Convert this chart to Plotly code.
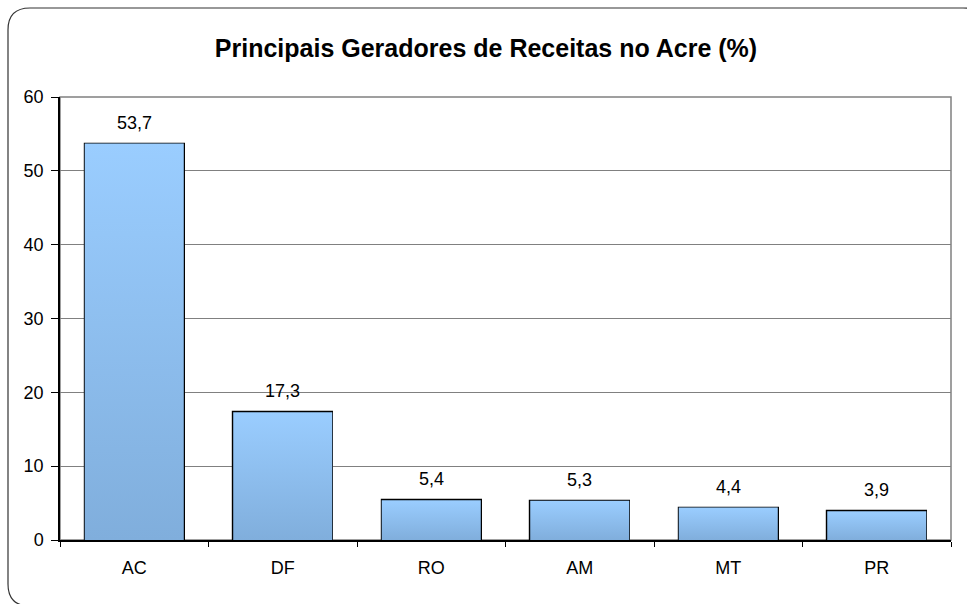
import plotly.graph_objects as go

# Revenue share by state of origin (%)
states = ["AC", "DF", "RO", "AM", "MT", "PR"]
shares = [53.7, 17.3, 5.4, 5.3, 4.4, 3.9]
y_ticks = [0, 10, 20, 30, 40, 50, 60]

W, H = 967, 604
L, R, T, B = 60, 16, 97, 64
BAR_W = 0.667
FONT = "Liberation Sans, Arial, sans-serif"

xs = list(range(len(states)))
fig = go.Figure()

# Gradient-filled bar bodies (light at top, darker at bottom)
for x, v in zip(xs, shares):
    x0, x1 = x - BAR_W / 2, x + BAR_W / 2
    fig.add_trace(go.Scatter(
        x=[x0, x1, x1, x0, x0], y=[0, 0, v, v, 0],
        mode="lines", line=dict(width=0), fill="toself",
        fillgradient=dict(type="vertical",
                          colorscale=[[0, "#80AEDC"], [1, "#9ACDFF"]]),
        hoverinfo="skip", showlegend=False,
    ))

# Bar outlines
fig.add_trace(go.Bar(
    x=xs, y=shares, width=BAR_W,
    marker=dict(color="rgba(0,0,0,0)", line=dict(color="#000000", width=2.2)),
    showlegend=False, hoverinfo="skip",
))

# Value labels above the bars
for x, v in zip(xs, shares):
    fig.add_annotation(
        x=x, y=v, text=f"{v:.1f}".replace(".", ","), showarrow=False,
        yanchor="middle", yshift=21,
        font=dict(family=FONT, size=18, color="#000000"),
    )

pw, ph = W - L - R, H - T - B


def px(xp):
    return (xp - L) / pw


def py(yp):
    return (H - B - yp) / ph


# Rounded outer frame of the chart
x0, x1, y0, y1, r = 8, 985, 8, 606, 22
path = (
    f"M {px(x0)},{py(y0 + r)} "
    f"Q {px(x0)},{py(y0)} {px(x0 + r)},{py(y0)} "
    f"L {px(x1 - r)},{py(y0)} "
    f"Q {px(x1)},{py(y0)} {px(x1)},{py(y0 + r)} "
    f"L {px(x1)},{py(y1 - r)} "
    f"Q {px(x1)},{py(y1)} {px(x1 - r)},{py(y1)} "
    f"L {px(x0 + r)},{py(y1)} "
    f"Q {px(x0)},{py(y1)} {px(x0)},{py(y1 - r)} Z"
)
fig.add_shape(type="path", path=path, xref="paper", yref="paper",
              line=dict(color="#333333", width=1.2), layer="below")

# Plot-area border
fig.add_shape(type="rect", xref="paper", yref="paper", x0=0, x1=1, y0=0, y1=1,
              line=dict(color="#808080", width=1.5), layer="below")

fig.update_layout(
    width=W, height=H,
    margin=dict(l=L, r=R, t=T, b=B),
    paper_bgcolor="white", plot_bgcolor="white",
    title=dict(text="<b>Principais Geradores de Receitas no Acre (%)</b>",
               x=486 / W, xref="container", xanchor="center",
               y=1 - 48 / H, yref="container", yanchor="middle",
               font=dict(family=FONT, size=25, color="#000000")),
    font=dict(family=FONT, size=18, color="#000000"),
    bargap=0,
)

fig.update_xaxes(
    range=[-0.5, len(states) - 0.5],
    tickmode="array", tickvals=xs, ticktext=states,
    ticks="", ticklabelstandoff=11,
    showgrid=False, zeroline=False,
    showline=True, linecolor="#000000", linewidth=1.5,
    minor=dict(tickmode="array",
               tickvals=[i - 0.5 for i in range(len(states) + 1)],
               ticks="outside", ticklen=5, tickcolor="#000000", tickwidth=1,
               showgrid=False),
    tickfont=dict(family=FONT, size=18, color="#000000"),
)

fig.update_yaxes(
    range=[0, 60], tickmode="array", tickvals=y_ticks,
    ticks="outside", ticklen=7, tickcolor="#000000", tickwidth=1,
    ticklabelstandoff=4,
    showgrid=True, gridcolor="#808080", gridwidth=1,
    zeroline=False,
    showline=True, linecolor="#000000", linewidth=1.5,
    tickfont=dict(family=FONT, size=18, color="#000000"),
)

fig.write_html("out.html")
